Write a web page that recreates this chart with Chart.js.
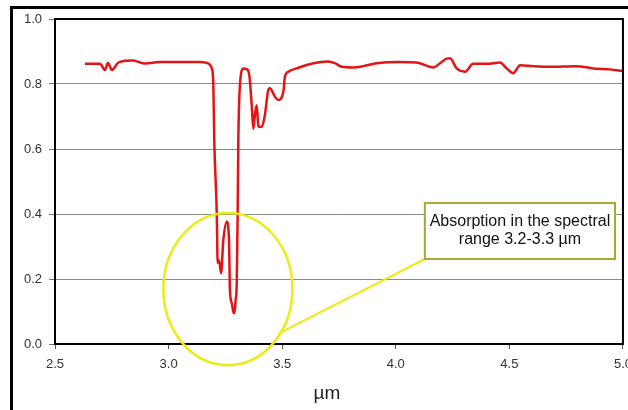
<!DOCTYPE html>
<html>
<head>
<meta charset="utf-8">
<script src="https://cdn.jsdelivr.net/npm/chart.js@4.4.1/dist/chart.umd.min.js"></script>
<style>
  html, body { margin: 0; padding: 0; background: #fff; overflow: hidden; }
  #frame { position: absolute; left: 10px; top: 6px; width: 700px; height: 500px; border: 3px solid #000; }
  #wrap { position: absolute; left: 0; top: 0; width: 640px; height: 410px; }
</style>
</head>
<body>
<div id="frame"></div>
<div id="wrap"><canvas id="spectrum"></canvas></div>
<script>
// wavelength (µm) and transmission
const wavelength = [
  2.632, 2.698, 2.720, 2.733, 2.751, 2.773, 2.786, 2.843, 2.896, 2.962,
  3.138, 3.169, 3.190, 3.197, 3.201, 3.212, 3.216, 3.222, 3.231, 3.241,
  3.256, 3.266, 3.270, 3.278, 3.285, 3.290, 3.295, 3.300, 3.304, 3.307,
  3.314, 3.329, 3.343, 3.355, 3.366, 3.373, 3.380, 3.388, 3.395, 3.410,
  3.424, 3.439, 3.446, 3.468, 3.483, 3.505, 3.512, 3.527, 3.564, 3.637,
  3.702, 3.732, 3.763, 3.813, 3.857, 3.916, 4.010, 4.092, 4.165, 4.195,
  4.224, 4.239, 4.268, 4.305, 4.341, 4.400, 4.459, 4.488, 4.517, 4.547,
  4.605, 4.679, 4.796, 4.869, 4.943, 4.999
];
const transmission = [
  0.862, 0.862, 0.843, 0.865, 0.843, 0.862, 0.868, 0.872, 0.863, 0.868,
  0.868, 0.865, 0.849, 0.797, 0.628, 0.403, 0.249, 0.258, 0.218, 0.320,
  0.376, 0.320, 0.166, 0.126, 0.099, 0.095, 0.135, 0.188, 0.403, 0.628,
  0.797, 0.848, 0.846, 0.828, 0.735, 0.662, 0.705, 0.735, 0.669, 0.668,
  0.705, 0.782, 0.787, 0.761, 0.751, 0.776, 0.822, 0.838, 0.848, 0.864,
  0.869, 0.864, 0.853, 0.851, 0.855, 0.864, 0.868, 0.866, 0.851, 0.864,
  0.878, 0.879, 0.848, 0.838, 0.862, 0.862, 0.866, 0.848, 0.833, 0.858,
  0.855, 0.853, 0.855, 0.848, 0.845, 0.840
];

const axisTitle = 'µm';
const noteLines = ['Absorption in the spectral', 'range 3.2-3.3 µm'];

const fontFamily = '"Liberation Sans", Arial, sans-serif';

// frame around plot area + yellow callout + axis title
const decorations = {
  id: 'decorations',
  afterDatasetsDraw(chart) {
    const { ctx, chartArea: a, scales: { x, y } } = chart;
    ctx.save();

    // black box round the plot
    ctx.strokeStyle = '#000';
    ctx.lineWidth = 2;
    ctx.strokeRect(a.left, a.top, a.right - a.left, a.bottom - a.top);

    // yellow ellipse round the absorption band
    const cx = x.getPixelForValue(3.261), cy = y.getPixelForValue(0.169);
    const rx = x.getPixelForValue(3.261 + 0.284) - cx;
    const ry = cy - y.getPixelForValue(0.169 + 0.234);
    ctx.strokeStyle = '#ecec14';
    ctx.lineWidth = 2.5;
    ctx.beginPath();
    ctx.ellipse(cx, cy, rx, ry, 0, 0, Math.PI * 2);
    ctx.stroke();

    // callout box
    const bl = x.getPixelForValue(4.128), br = x.getPixelForValue(4.965);
    const bt = y.getPixelForValue(0.434), bb = y.getPixelForValue(0.2615);

    // leader line
    ctx.lineWidth = 2;
    ctx.beginPath();
    ctx.moveTo(x.getPixelForValue(3.481), y.getPixelForValue(0.031));
    ctx.lineTo(bl, bb);
    ctx.stroke();

    ctx.fillStyle = '#fff';
    ctx.fillRect(bl, bt, br - bl, bb - bt);
    ctx.strokeStyle = '#a8a832';
    ctx.lineWidth = 2;
    ctx.strokeRect(bl, bt, br - bl, bb - bt);

    ctx.fillStyle = '#111';
    ctx.font = '16px ' + fontFamily;
    ctx.textAlign = 'center';
    ctx.textBaseline = 'middle';
    const mid = (bl + br) / 2;
    ctx.fillText(noteLines[0], mid, bt + 19);
    ctx.fillText(noteLines[1], mid, bt + 37);

    // x axis title
    ctx.font = '19px ' + fontFamily;
    ctx.fillStyle = '#222';
    ctx.fillText(axisTitle, 327, 394);

    ctx.restore();
  }
};

const ctx = document.getElementById('spectrum').getContext('2d');
new Chart(ctx, {
  type: 'line',
  data: {
    datasets: [{
      data: wavelength.map((w, i) => ({ x: w, y: transmission[i] })),
      borderColor: '#e41414',
      borderWidth: 2.5,
      pointRadius: 0,
      cubicInterpolationMode: 'monotone',
      fill: false
    }]
  },
  options: {
    responsive: true,
    maintainAspectRatio: false,
    animation: false,
    layout: { padding: { top: 19, right: 17, left: 0, bottom: 0 } },
    plugins: {
      legend: { display: false },
      tooltip: { enabled: false }
    },
    scales: {
      x: {
        type: 'linear',
        min: 2.5,
        max: 5.0,
        afterFit: (s) => { s.height = 66; },
        border: { display: false },
        grid: { drawOnChartArea: false, drawTicks: true, tickLength: 5, tickColor: '#555' },
        ticks: {
          stepSize: 0.5,
          padding: 8,
          color: '#333',
          font: { family: fontFamily, size: 13 },
          maxRotation: 0,
          callback: (v) => v.toFixed(1)
        }
      },
      y: {
        min: 0,
        max: 1.0,
        afterFit: (s) => { s.width = 55; },
        border: { display: false },
        grid: { color: '#8a8a8a', lineWidth: 1, drawTicks: true, tickLength: 6, tickColor: '#777' },
        ticks: {
          stepSize: 0.2,
          padding: 7,
          color: '#333',
          font: { family: fontFamily, size: 13 },
          callback: (v) => v.toFixed(1)
        }
      }
    }
  },
  plugins: [decorations]
});
</script>
</body>
</html>
